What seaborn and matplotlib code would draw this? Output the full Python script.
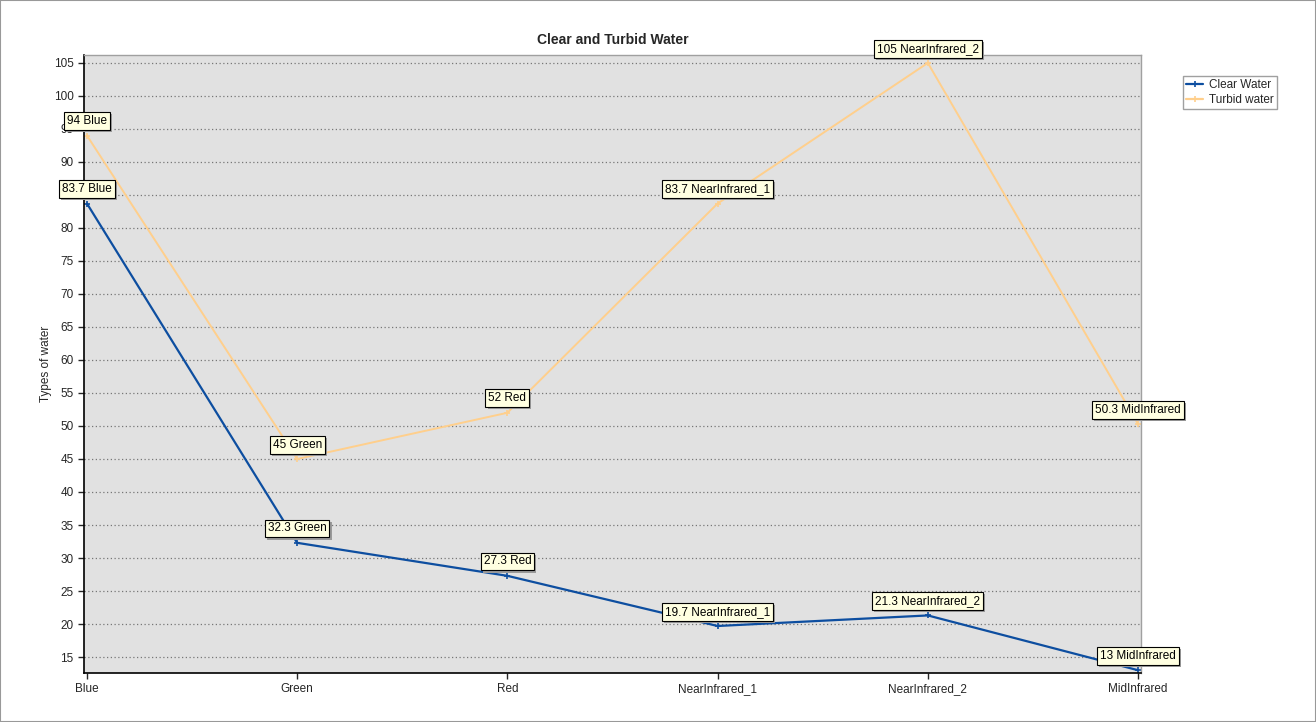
import pandas as pd
import seaborn as sns
import matplotlib.pyplot as plt
from matplotlib.patches import Rectangle

bands = ["Blue", "Green", "Red", "NearInfrared_1", "NearInfrared_2", "MidInfrared"]
clear_water = [83.7, 32.3, 27.3, 19.7, 21.3, 13]
turbid_water = [94, 45, 52, 83.7, 105, 50.3]
series_names = ["Clear Water", "Turbid water"]
colors = ["#0d4ea0", "#ffcf8c"]

df = pd.DataFrame({
    "band": bands * 2,
    "pos": list(range(len(bands))) * 2,
    "value": clear_water + turbid_water,
    "series": [series_names[0]] * len(bands) + [series_names[1]] * len(bands),
})

sns.set_style("white")
plt.rcParams['font.family'] = ['Liberation Sans', 'DejaVu Sans']

fig = plt.figure(figsize=(13.16, 7.22), dpi=100)
ax = fig.add_axes([84 / 1316, 49 / 722, (1141 - 84) / 1316, (673 - 55) / 722])
ax.set_facecolor("#e1e1e1")

sns.lineplot(data=df, x="pos", y="value", hue="series", palette=colors,
             marker="+", markersize=5, markeredgewidth=1.2, linewidth=1.6,
             ax=ax, legend=True)
for line, c in zip(ax.get_lines()[:2], colors):
    line.set_markeredgecolor(c)
ax.get_lines()[1].set_linewidth(1.4)

ax.set_xlim(-0.014, 5.014)
ax.set_ylim(12.58, 106.2)
ax.set_xticks(range(len(bands)))
ax.set_xticklabels(bands, fontsize=8.5)
ax.set_yticks(range(15, 106, 5))
ax.tick_params(axis="y", labelsize=8.5, direction="out", length=4, width=1, left=True)
ax.tick_params(axis="x", direction="out", length=4, width=1, bottom=True)
ax.yaxis.grid(True, linestyle=(0, (1, 2)), color="#777777", linewidth=0.9)
ax.set_axisbelow(True)
ax.set_xlabel("")
ax.set_ylabel("Types of water", fontsize=8.5, labelpad=1)
ax.set_title("Clear and Turbid Water", fontsize=10, fontweight="bold", pad=8)

for side in ["left", "bottom"]:
    ax.spines[side].set_color("black")
    ax.spines[side].set_linewidth(1.2)
for side in ["top", "right"]:
    ax.spines[side].set_color("#a0a0a0")
    ax.spines[side].set_linewidth(1)

# value labels with little shadowed boxes
for vals in [clear_water, turbid_water]:
    for i, v in enumerate(vals):
        txt = f"{v:g} {bands[i]}"
        ax.annotate(txt, (i, v), xytext=(1.5, 4.5), textcoords="offset points",
                    ha="center", va="bottom", fontsize=8.5, color="none",
                    bbox=dict(boxstyle="square,pad=0.25", fc="#9a9a9a", ec="none"),
                    annotation_clip=False, zorder=5)
        ax.annotate(txt, (i, v), xytext=(0, 6), textcoords="offset points",
                    ha="center", va="bottom", fontsize=8.5, color="black",
                    bbox=dict(boxstyle="square,pad=0.25", fc="#ffffe1", ec="black", lw=0.8),
                    annotation_clip=False, zorder=6)

leg = ax.legend(loc="upper left", bbox_to_anchor=(1177 / 1316, 1 - 70 / 722),
                bbox_transform=fig.transFigure, fontsize=8.5, frameon=True,
                fancybox=False, borderpad=0.3, handlelength=1.4, handletextpad=0.5,
                labelspacing=0.2)
leg.get_frame().set_edgecolor("#888888")
leg.get_frame().set_linewidth(1)
for h, c in zip(leg.get_lines(), colors):
    h.set_color(c)
    h.set_markeredgecolor(c)
    h.set_linestyle("-")

fig.patches.append(Rectangle((0, 0), 1, 1, transform=fig.transFigure,
                             fill=False, edgecolor="#999999", linewidth=1.5))

fig.savefig("out.png", dpi=100)
